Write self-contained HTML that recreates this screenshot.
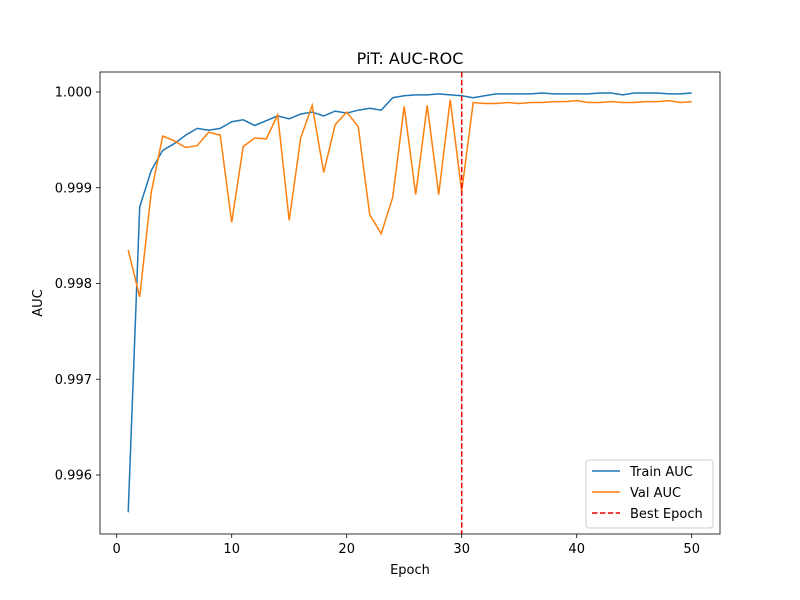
<!DOCTYPE html>
<html><head><meta charset="utf-8"><style>
body{margin:0;background:#fff;}
svg{display:block;font-family:"DejaVu Sans","Liberation Sans",sans-serif;}
</style></head><body>
<svg id="s" width="800" height="600" xmlns="http://www.w3.org/2000/svg">
<rect width="800" height="600" fill="#fff"/>
<g id="plot"></g>
<rect x="100" y="72" width="620" height="462" fill="none" stroke="#000" stroke-width="0.8"/>
<text x="410" y="64" font-size="16" text-anchor="middle">PiT: AUC-ROC</text>
<text x="410" y="574" font-size="13" text-anchor="middle">Epoch</text>
<text transform="translate(42,303) rotate(-90)" font-size="13" text-anchor="middle">AUC</text>
<g id="ticks" font-size="13"></g>
<g>
<rect x="586" y="460" width="127" height="68" rx="3" fill="#fff" fill-opacity="0.8" stroke="#ccc"/>
<line x1="592" y1="471" x2="620" y2="471" stroke="#1f77b4" stroke-width="1.5"/>
<text x="630" y="476" font-size="13">Train AUC</text>
<line x1="592" y1="492" x2="620" y2="492" stroke="#ff7f0e" stroke-width="1.5"/>
<text x="630" y="497" font-size="13">Val AUC</text>
<line x1="592" y1="513" x2="620" y2="513" stroke="#e00" stroke-width="1.5" stroke-dasharray="5.5,2.4"/>
<text x="630" y="518" font-size="13">Best Epoch</text>
</g>
</svg>
<script>
const X=e=>116.7+e*11.5, Y=v=>92+(1-v)*95750;
const tr=[0.99561,0.9988,0.99918,0.99939,0.99946,0.99955,0.99962,0.9996,0.99962,0.99969,0.99971,0.99965,0.9997,0.99975,0.99972,0.99977,0.99979,0.99975,0.9998,0.99978,0.99981,0.99983,0.99981,0.99994,0.99996,0.99997,0.99997,0.99998,0.99997,0.99996,0.99994,0.99996,0.99998,0.99998,0.99998,0.99998,0.99999,0.99998,0.99998,0.99998,0.99998,0.99999,0.99999,0.99997,0.99999,0.99999,0.99999,0.99998,0.99998,0.99999];
const va=[0.99835,0.99786,0.99895,0.99954,0.99949,0.99942,0.99944,0.99958,0.99955,0.99864,0.99943,0.99952,0.99951,0.99976,0.99866,0.99952,0.99986,0.99916,0.99966,0.99979,0.99964,0.99872,0.99852,0.9989,0.99985,0.99893,0.99986,0.99893,0.99992,0.99896,0.99989,0.99988,0.99988,0.99989,0.99988,0.99989,0.99989,0.9999,0.9999,0.99991,0.99989,0.99989,0.9999,0.99989,0.99989,0.9999,0.9999,0.99991,0.99989,0.9999];
let h='';
const pl=a=>a.map((v,i)=>X(i+1).toFixed(1)+','+Y(v).toFixed(1)).join(' ');
h+=`<polyline points="${pl(tr)}" fill="none" stroke="#1f77b4" stroke-width="1.5"/>`;
h+=`<polyline points="${pl(va)}" fill="none" stroke="#ff7f0e" stroke-width="1.5"/>`;
h+=`<line x1="${X(30)}" y1="72" x2="${X(30)}" y2="534" stroke="#e00" stroke-width="1.5" stroke-dasharray="5.5,2.4"/>`;
document.getElementById('plot').innerHTML=h;
let t='';
for(const e of [0,10,20,30,40,50]){const x=X(e);t+=`<line x1="${x}" y1="534" x2="${x}" y2="538" stroke="#000" stroke-width="0.8"/><text x="${x}" y="553" text-anchor="middle">${e}</text>`;}
for(const v of [0.996,0.997,0.998,0.999,1.0]){const y=Y(v);t+=`<line x1="96" y1="${y}" x2="100" y2="${y}" stroke="#000" stroke-width="0.8"/><text x="92" y="${y+4.5}" text-anchor="end">${v.toFixed(3)}</text>`;}
document.getElementById('ticks').innerHTML=t;
</script>
</body></html>
